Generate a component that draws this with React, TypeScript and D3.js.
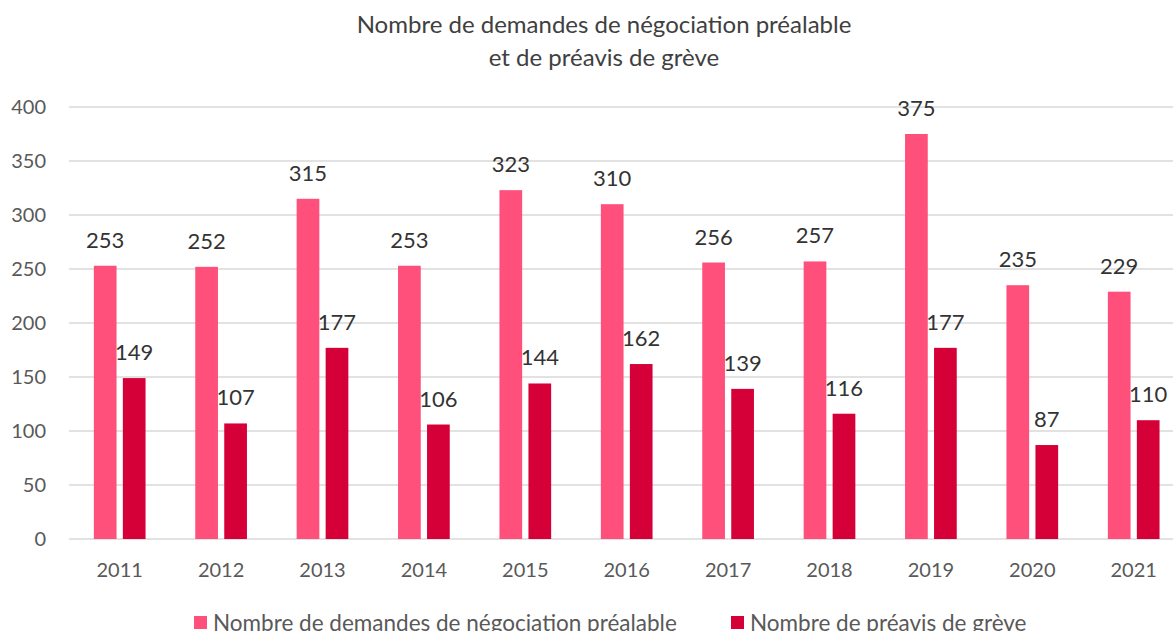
import * as d3 from "d3";

const years = ["2011", "2012", "2013", "2014", "2015", "2016", "2017", "2018", "2019", "2020", "2021"];
const demandes = [253, 252, 315, 253, 323, 310, 256, 257, 375, 235, 229];
const preavis = [149, 107, 177, 106, 144, 162, 139, 116, 177, 87, 110];
const seriesNames = ["Nombre de demandes de négociation préalable", "Nombre de préavis de grève"];
const yTicks = [0, 50, 100, 150, 200, 250, 300, 350, 400];

const colors = ["#FF4F7B", "#D60039"];
const font = "Lato, 'Open Sans', sans-serif";

export default function App() {
  const width = 1173;
  const height = 631;
  const margin = { top: 107, left: 69, bottom: 92 };
  const step = 101.4;

  const x = d3
    .scaleBand()
    .domain(years)
    .range([margin.left, margin.left + step * years.length]);

  const x1 = d3
    .scaleBand()
    .domain(seriesNames)
    .range([24.85, step - 24.85])
    .paddingInner(0.217);

  const y = d3
    .scaleLinear()
    .domain([0, 400])
    .range([height - margin.bottom, margin.top]);

  const series = [demandes, preavis];

  return (
    <svg
      width={width}
      height={height}
      style={{ position: "absolute", left: 0, top: 0, background: "#fff" }}
      fontFamily={font}
    >
      {/* Title */}
      <text x={604} y={33} textAnchor="middle" fontSize={24} fill="#404040">
        Nombre de demandes de négociation préalable
      </text>
      <text x={604} y={66} textAnchor="middle" fontSize={24} fill="#404040">
        et de préavis de grève
      </text>

      {/* Grid + y axis */}
      {yTicks.map((t) => (
        <g key={t}>
          <line
            x1={margin.left}
            x2={width}
            y1={y(t)}
            y2={y(t)}
            stroke="#D9D9D9"
            strokeWidth={1.5}
          />
          <text
            x={46}
            y={y(t)}
            dy="0.36em"
            textAnchor="end"
            fontSize={20}
            fill="#595959"
          >
            {t}
          </text>
        </g>
      ))}

      {/* Bars */}
      {years.map((yr, i) => (
        <g key={yr} transform={`translate(${x(yr)},0)`}>
          {series.map((vals, s) => {
            const bx = x1(seriesNames[s])!;
            return (
              <g key={s}>
                <rect
                  x={bx}
                  y={y(vals[i])}
                  width={x1.bandwidth()}
                  height={y(0) - y(vals[i])}
                  fill={colors[s]}
                />
                <text
                  x={bx + x1.bandwidth() / 2}
                  y={y(vals[i]) - 18}
                  textAnchor="middle"
                  fontSize={22}
                  fill="#333333"
                >
                  {vals[i]}
                </text>
              </g>
            );
          })}
          <text
            x={x.bandwidth() / 2}
            y={577}
            textAnchor="middle"
            fontSize={20}
            fill="#595959"
          >
            {yr}
          </text>
        </g>
      ))}

      {/* Legend */}
      {seriesNames.map((name, s) => {
        const lx = [194, 731][s];
        return (
          <g key={name}>
            <rect x={lx} y={616} width={13} height={13} fill={colors[s]} />
            <text x={lx + 19} y={631} fontSize={22.5} fill="#595959">
              {name}
            </text>
          </g>
        );
      })}
    </svg>
  );
}
